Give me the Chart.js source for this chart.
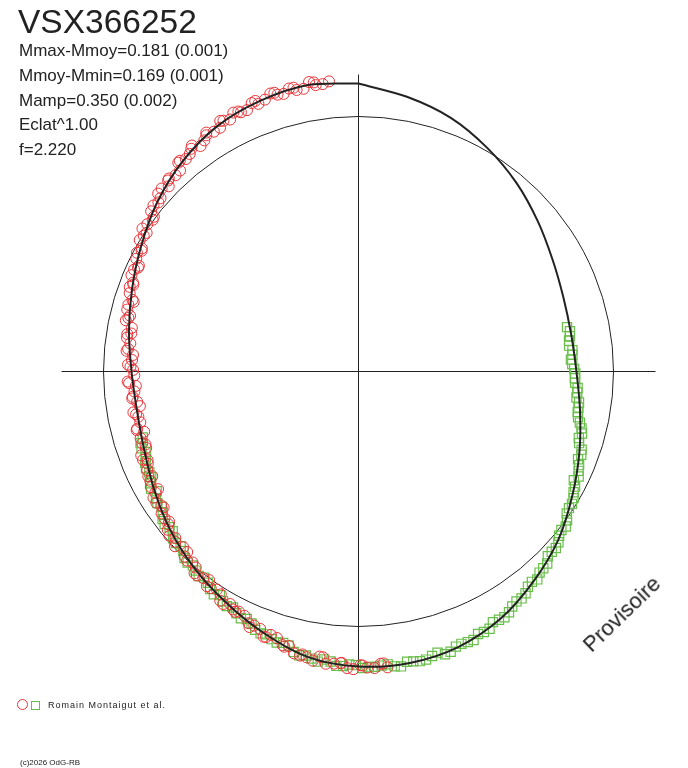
<!DOCTYPE html>
<html>
<head>
<meta charset="utf-8">
<script src="https://cdn.jsdelivr.net/npm/chart.js@4.4.1/dist/chart.umd.min.js"></script>
<style>
  body { margin: 0; background: #fff; }
  #wrap { position: relative; width: 688px; height: 768px; font-family: "Liberation Sans", Arial, sans-serif; color: #222; }
  #wrap canvas { position: absolute; left: 0; top: 0; }
  .t { position: absolute; white-space: nowrap; line-height: 1; }
  .title { left: 18px; top: 5px; font-size: 33.5px; }
  .stat { left: 19px; font-size: 17px; }
  .legend { left: 48px; top: 701px; font-size: 9px; letter-spacing: 1px; }
  .copy { left: 20px; top: 759px; font-size: 8px; }
  .provis { left: 592px; top: 635px; font-size: 22px; transform-origin: 0 18.6px; transform: rotate(-44deg); }
  .mk-c { position: absolute; left: 17px; top: 699px; width: 9px; height: 9px; border: 1px solid #e8353a; border-radius: 50%; }
  .mk-s { position: absolute; left: 31px; top: 701px; width: 7px; height: 7px; border: 1px solid #6abf4b; }
</style>
</head>
<body>
<div id="wrap">
  <canvas id="phaseChart" width="688" height="768"></canvas>
  <div class="t title">VSX366252</div>
  <div id="stats"></div>
  <span class="mk-c"></span><span class="mk-s"></span>
  <div class="t legend">Romain Montaigut et al.</div>
  <div class="t copy">(c)2026 OdG-RB</div>
  <div class="t provis">Provisoire</div>
</div>
<script>
// phase given as angle (deg, clockwise from top), dmag = magnitude minus mean magnitude
const fitAngle = [0, 10, 20, 30, 40, 50, 60, 70, 80, 90, 100, 110, 120, 130, 140, 150, 160, 170,
  180, 190, 200, 210, 220, 230, 240, 250, 260, 270, 280, 290, 300, 310, 320, 330, 340, 350];
const fitDmag = [0.146, 0.106, 0.066, 0.013, -0.040, -0.093, -0.137, -0.164, -0.173, -0.164,
  -0.133, -0.088, -0.035, 0.027, 0.080, 0.133, 0.168, 0.181, 0.177, 0.155,
  0.102, 0.049, 0.004, -0.040, -0.084, -0.119, -0.133, -0.124, -0.097, -0.062,
  -0.018, 0.035, 0.084, 0.124, 0.146, 0.159];

const redAngle = [174.4, 175.7, 178.3, 179.6, 182.2, 183.5, 186.4, 187.8, 190.3, 191.6,
  194.2, 195.5, 198.4, 199.7, 202.3, 203.6, 206.5, 207.8, 210.2, 211.7,
  214.3, 215.6, 218.4, 219.7, 222.2, 223.5, 226.4, 227.7, 230.3, 231.6,
  234.2, 235.8, 238.4, 239.6, 242.3, 243.5, 246.4, 247.7, 250.2, 251.6,
  254.3, 255.5, 258.4, 259.7, 262.2, 263.6, 266.3, 267.5, 270.4, 271.7,
  274.2, 275.6, 278.3, 279.5, 282.4, 283.7, 286.2, 287.6, 290.3, 291.5,
  294.4, 295.7, 298.2, 299.6, 302.3, 303.5, 306.4, 307.7, 310.2, 311.6,
  314.3, 315.5, 318.4, 319.7, 322.2, 323.6, 326.3, 327.5, 330.4, 331.7,
  334.2, 335.6, 338.3, 339.5, 342.4, 343.7, 346.2, 347.6, 350.3, 351.5, 354.2,
  175.1, 176.9, 179.2, 181.0, 183.3, 184.8, 187.1, 189.0, 191.2, 192.9,
  195.1, 197.0, 199.2, 200.9, 203.1, 205.0, 207.2, 208.9, 211.1, 213.0,
  215.2, 216.9, 219.1, 221.0, 223.2, 224.9, 227.1, 229.0, 231.2, 232.9,
  235.1, 237.0, 239.2, 240.9, 243.1, 245.0, 247.2, 248.9, 251.1, 253.0,
  255.2, 256.9, 259.1, 261.0, 263.2, 264.9, 267.1, 269.0, 271.2, 272.9,
  275.1, 277.0, 279.2, 280.9, 283.1, 285.0, 287.2, 288.9, 291.1, 293.0,
  295.2, 296.9, 299.1, 301.0, 303.2, 304.9, 307.1, 309.0, 311.2, 312.9,
  315.1, 317.0, 319.2, 320.9, 323.1, 325.0, 327.2, 328.9, 331.1, 333.0,
  335.2, 336.9, 339.1, 341.0, 343.2, 344.9, 347.1, 349.0, 351.2, 352.9];
const redDmag = [0.187, 0.169, 0.182, 0.171, 0.185, 0.165, 0.173, 0.145, 0.157, 0.155,
  0.125, 0.128, 0.100, 0.118, 0.087, 0.087, 0.059, 0.062, 0.062, 0.031,
  0.032, 0.007, 0.023, -0.001, 0.001, -0.027, -0.007, -0.033, -0.032, -0.059,
  -0.054, -0.073, -0.063, -0.100, -0.088, -0.089, -0.111, -0.098, -0.130, -0.120,
  -0.143, -0.117, -0.134, -0.116, -0.140, -0.123, -0.141, -0.106, -0.131, -0.108,
  -0.128, -0.104, -0.093, -0.109, -0.074, -0.088, -0.068, -0.079, -0.049, -0.056,
  -0.038, -0.050, -0.016, -0.026, -0.004, 0.018, 0.003, 0.031, 0.031, 0.057,
  0.045, 0.069, 0.061, 0.094, 0.090, 0.114, 0.101, 0.125, 0.112, 0.132,
  0.144, 0.131, 0.150, 0.136, 0.162, 0.148, 0.161, 0.147, 0.171, 0.153, 0.162,
  0.168, 0.186, 0.173, 0.189, 0.163, 0.169, 0.146, 0.167, 0.148, 0.151,
  0.133, 0.105, 0.116, 0.091, 0.101, 0.065, 0.067, 0.047, 0.056, 0.022,
  0.035, 0.015, 0.022, -0.009, -0.005, -0.030, -0.021, -0.020, -0.049, -0.052,
  -0.077, -0.062, -0.082, -0.077, -0.105, -0.097, -0.116, -0.098, -0.132, -0.120,
  -0.113, -0.137, -0.126, -0.149, -0.120, -0.133, -0.112, -0.136, -0.119, -0.125,
  -0.098, -0.111, -0.092, -0.107, -0.083, -0.069, -0.087, -0.058, -0.061, -0.037,
  -0.050, -0.026, -0.030, 0.001, -0.008, 0.011, 0.007, 0.039, 0.036, 0.061,
  0.065, 0.059, 0.092, 0.083, 0.104, 0.090, 0.115, 0.111, 0.138, 0.123,
  0.139, 0.129, 0.153, 0.144, 0.160, 0.144, 0.160, 0.146, 0.166, 0.153];

const greenAngle = [78, 79.2, 80.5, 81.7, 83, 84.3, 85.5, 86.8, 88, 89.3,
  90.5, 91.8, 93, 94.3, 95.5, 96.8, 98, 99.3, 100.5, 101.8, 103,
  105.5, 108, 110.5, 113, 115.5, 118, 120.5, 123, 125.5, 128,
  130.5, 133, 135.5, 138, 140.5, 143, 145.5, 148, 150.5, 153,
  155.5, 158, 160.5, 163, 165.5, 168, 170.5, 173, 175.5, 178,
  180.5, 183, 185.5, 188, 190.5, 193, 195.5, 198, 200.5, 203,
  205.5, 208, 210.5, 213, 215.5, 218, 220.5, 223, 225.5, 228,
  230.5, 233, 235.5, 238, 240.5, 243, 245.5, 248, 250.5, 253,
  104.3, 106.8, 109.3, 111.8, 114.3, 116.8, 119.3, 121.8, 124.3, 126.8,
  129.3, 131.8, 134.3, 136.8, 139.3, 141.8, 144.3, 146.8, 149.3, 151.8,
  154.3, 156.8, 159.3, 161.8, 164.3, 166.8, 169.3, 171.8, 174.3, 176.8,
  179.3, 181.8, 184.3, 186.8, 189.3, 191.8, 194.3, 196.8, 199.3, 201.8,
  204.3, 206.8, 209.3, 211.8, 214.3, 216.8, 219.3, 221.8, 224.3, 226.8,
  229.3, 231.8, 234.3, 236.8, 239.3, 241.8, 244.3, 246.8, 249.3, 251.8];
const greenDmag = [-0.185, -0.176, -0.180, -0.187, -0.189, -0.177, -0.179, -0.187, -0.182, -0.174,
  -0.169, -0.171, -0.168, -0.156, -0.156, -0.157, -0.143, -0.142, -0.142, -0.136, -0.123,
  -0.102, -0.102, -0.076, -0.068, -0.049, -0.043, -0.024, -0.018, 0.005, 0.011,
  0.035, 0.041, 0.063, 0.069, 0.078, 0.100, 0.106, 0.128, 0.134, 0.149,
  0.148, 0.163, 0.163, 0.180, 0.172, 0.182, 0.174, 0.186, 0.177, 0.181,
  0.171, 0.177, 0.161, 0.168, 0.150, 0.145, 0.118, 0.117, 0.109, 0.083,
  0.081, 0.054, 0.052, 0.047, 0.020, 0.020, 0.000, 0.000, -0.025, -0.025,
  -0.045, -0.043, -0.071, -0.071, -0.074, -0.099, -0.095, -0.114, -0.110, -0.130,
  -0.110, -0.110, -0.082, -0.082, -0.060, -0.061, -0.037, -0.017, -0.013, 0.017,
  0.019, 0.043, 0.042, 0.066, 0.085, 0.084, 0.108, 0.114, 0.136, 0.130,
  0.151, 0.164, 0.160, 0.177, 0.164, 0.181, 0.177, 0.190, 0.174, 0.180,
  0.184, 0.169, 0.178, 0.155, 0.159, 0.154, 0.123, 0.124, 0.104, 0.103,
  0.073, 0.070, 0.062, 0.036, 0.037, 0.011, 0.010, 0.006, -0.019, -0.020,
  -0.044, -0.037, -0.062, -0.065, -0.090, -0.082, -0.101, -0.102, -0.121, -0.113];

const statLines = ["Mmax-Mmoy=0.181 (0.001)", "Mmoy-Mmin=0.169 (0.001)",
  "Mamp=0.350 (0.002)", "Eclat^1.00", "f=2.220"];

// radius of the mean-magnitude circle and scale in px per magnitude
const MEAN_R = 255;
const PX_PER_MAG = 226;
const AXIS_LEN = 297;

const statsDiv = document.getElementById('stats');
statLines.forEach((s, i) => {
  const d = document.createElement('div');
  d.className = 't stat';
  d.style.top = (42.3 + i * 24.7) + 'px';
  d.textContent = s;
  statsDiv.appendChild(d);
});

function toXY(angle, dmag) {
  const r = MEAN_R + PX_PER_MAG * dmag;
  const a = angle * Math.PI / 180;
  return { x: r * Math.sin(a), y: r * Math.cos(a) };
}

const fitPts = fitAngle.map((a, i) => toXY(a, fitDmag[i]));
fitPts.push(fitPts[0]);
const redPts = redAngle.map((a, i) => toXY(a, redDmag[i]));
const greenPts = greenAngle.map((a, i) => toXY(a, greenDmag[i]));

const guides = {
  id: 'guides',
  beforeDatasetsDraw(chart) {
    const { ctx, scales: { x, y } } = chart;
    const cx = x.getPixelForValue(0), cy = y.getPixelForValue(0);
    ctx.save();
    ctx.strokeStyle = '#222';
    ctx.lineWidth = 1;
    ctx.beginPath();
    ctx.moveTo(x.getPixelForValue(-AXIS_LEN), cy);
    ctx.lineTo(x.getPixelForValue(AXIS_LEN), cy);
    ctx.moveTo(cx, y.getPixelForValue(AXIS_LEN));
    ctx.lineTo(cx, y.getPixelForValue(-AXIS_LEN));
    ctx.stroke();
    ctx.beginPath();
    ctx.arc(cx, cy, x.getPixelForValue(MEAN_R) - cx, 0, 2 * Math.PI);
    ctx.stroke();
    ctx.restore();
  }
};

new Chart('phaseChart', {
  type: 'scatter',
  data: {
    datasets: [{
      type: 'line',
      data: fitPts,
      borderColor: '#222',
      borderWidth: 2,
      pointRadius: 0,
      tension: 0.3,
      fill: false,
      order: 0
    }, {
      data: redPts,
      pointStyle: 'circle',
      pointRadius: 5.5,
      borderColor: '#e8353a',
      backgroundColor: 'rgba(0,0,0,0)',
      borderWidth: 1,
      order: 1
    }, {
      data: greenPts,
      pointStyle: 'rect',
      pointRadius: 6.5,
      borderColor: '#6abf4b',
      backgroundColor: 'rgba(0,0,0,0)',
      borderWidth: 1.2,
      order: 2
    }]
  },
  options: {
    responsive: false,
    animation: false,
    layout: { padding: 0, autoPadding: false },
    plugins: { legend: { display: false }, title: { display: false }, tooltip: { enabled: false } },
    scales: {
      x: { type: 'linear', display: false, min: -358.5, max: 329.5 },
      y: { type: 'linear', display: false, min: -396.5, max: 371.5 }
    }
  },
  plugins: [guides]
});
</script>
</body>
</html>
